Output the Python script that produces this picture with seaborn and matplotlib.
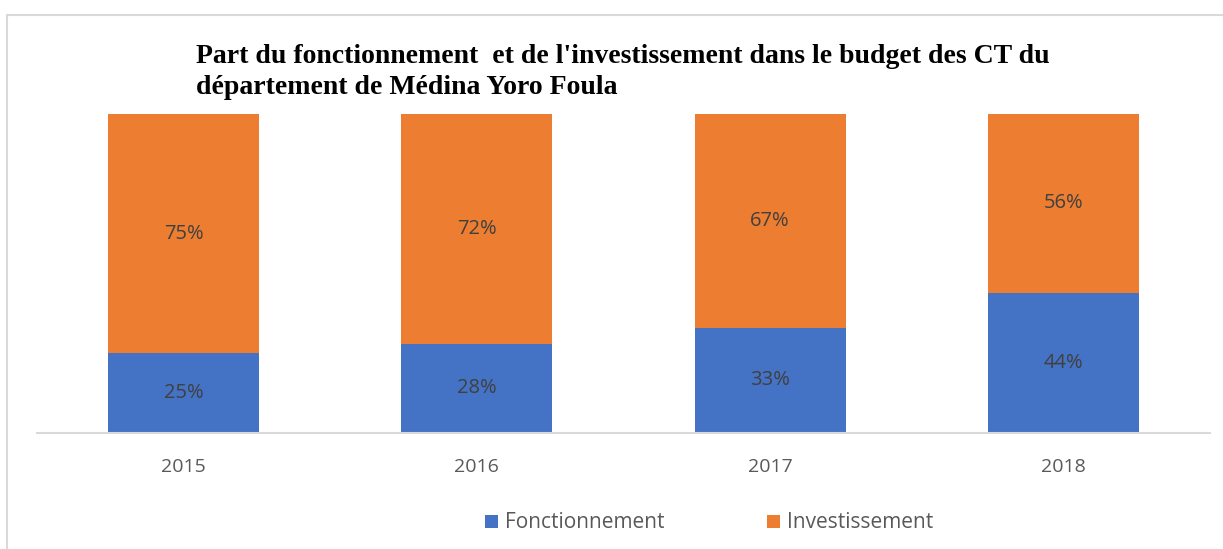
import pandas as pd
import numpy as np
import matplotlib
matplotlib.use('Agg')
import matplotlib.pyplot as plt
import seaborn as sns
from matplotlib.patches import Rectangle

# --- Data ---
years = ['2015', '2016', '2017', '2018']
fonctionnement = [25, 28, 33, 44]
investissement = [75, 72, 67, 56]
series_names = ['Fonctionnement', 'Investissement']
title = ("Part du fonctionnement  et de l'investissement dans le budget des CT du\n"
         "département de Médina Yoro Foula")

blue = '#4472C4'
orange = '#ED7D31'

df = pd.DataFrame({'Annee': years,
                   'Fonctionnement': fonctionnement,
                   'Investissement': investissement})
df['Total'] = df['Fonctionnement'] + df['Investissement']

sns.set_style('white')
plt.rcParams['font.family'] = ['Open Sans', 'DejaVu Sans']

fig = plt.figure(figsize=(12.23, 5.49), dpi=100)
ax = fig.add_axes([37 / 1223, 1 - 433 / 549, (1210 - 37) / 1223, (433 - 114) / 549])

# stacked bars: draw total in orange, then fonctionnement in blue on top
sns.barplot(data=df, x='Annee', y='Total', color=orange, width=0.515,
            saturation=1, ax=ax, label=series_names[1], linewidth=0)
sns.barplot(data=df, x='Annee', y='Fonctionnement', color=blue, width=0.515,
            saturation=1, ax=ax, label=series_names[0], linewidth=0)

ax.set_ylim(0, 100)
ax.set_xlim(-0.5, len(years) - 0.5)

# percentage labels
for i in range(len(years)):
    f = df['Fonctionnement'][i]
    inv = df['Investissement'][i]
    ax.text(i, f / 2, f'{f}%', ha='center', va='center', fontsize=14.5, color='#404040')
    ax.text(i, f + inv / 2, f'{inv}%', ha='center', va='center', fontsize=14.5, color='#404040')

ax.set_xlabel('')
ax.set_ylabel('')
ax.set_yticks([])
ax.tick_params(axis='x', length=0, pad=18, labelsize=14, labelcolor='#595959')
for s in ['top', 'right', 'left']:
    ax.spines[s].set_visible(False)
ax.spines['bottom'].set_color('#D9D9D9')
ax.spines['bottom'].set_linewidth(1.5)

# legend at bottom (figure level, not inside the axes)
handles, labels = ax.get_legend_handles_labels()
if ax.get_legend() is not None:
    ax.get_legend().remove()
order = [labels.index(n) for n in series_names]
fig.legend([handles[k] for k in order], [labels[k] for k in order],
           loc='center', bbox_to_anchor=(0.580, 1 - 523 / 549), ncol=2,
           frameon=False, fontsize=15, handlelength=0.6, handleheight=0.6,
           handletextpad=0.38, columnspacing=4.9, labelcolor='#595959')

# title
fig.text(196 / 1223, 1 - 44 / 549, title, ha='left', va='top', fontsize=20,
         fontweight='bold', family=['Liberation Serif'], linespacing=1.33,
         color='black')

# chart border
fig.patches.append(Rectangle((7 / 1223, -0.1), 1.2, 1 - 15 / 549 + 0.1,
                             transform=fig.transFigure, fill=False,
                             edgecolor='#D9D9D9', linewidth=1.5))

fig.savefig('out.png', dpi=100)
